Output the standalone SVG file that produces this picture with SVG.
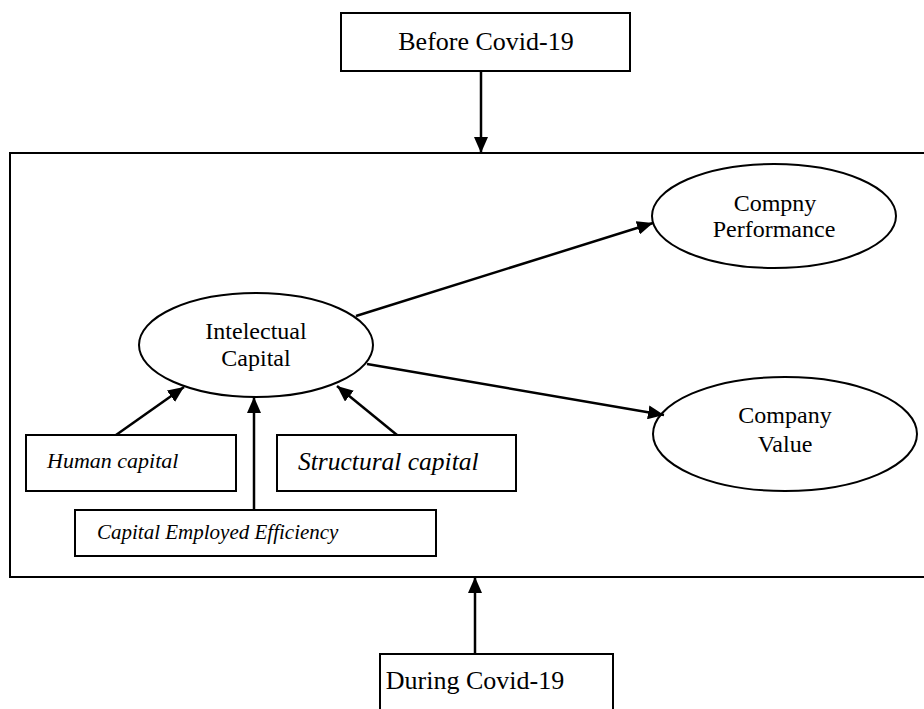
<svg xmlns="http://www.w3.org/2000/svg" width="924" height="709" viewBox="0 0 924 709">
<defs>
<style>
.box{fill:#fff;stroke:#000;stroke-width:2}
.ell{fill:#fff;stroke:#000;stroke-width:2}
.t{font-family:"Liberation Serif","Times New Roman",serif;fill:#000;text-anchor:middle}
.it{font-family:"Liberation Serif","Times New Roman",serif;font-style:italic;fill:#000}
.c{stroke:#000;stroke-width:2.5;fill:none;marker-end:url(#ah)}
</style>
<marker id="ah" viewBox="0 0 16 14" refX="16" refY="7" markerWidth="16" markerHeight="14" markerUnits="userSpaceOnUse" orient="auto">
<path d="M0,0 L16,7 L0,14 Z" fill="#000"/>
</marker>
</defs>
<rect width="924" height="709" fill="#fff"/>
<g id="frame">
<rect class="box" x="10" y="153" width="930" height="424"/>
</g>
<g id="before">
<rect class="box" x="341" y="13" width="289" height="58"/>
<text class="t" x="486" y="50" font-size="26">Before Covid-19</text>
</g>
<g id="during">
<rect class="box" x="380" y="654" width="233" height="70"/>
<text class="t" x="475" y="689" font-size="26">During Covid-19</text>
</g>
<g id="intellectual">
<ellipse class="ell" cx="256" cy="345" rx="117" ry="52"/>
<text class="t" x="256" y="339" font-size="24">Intelectual</text>
<text class="t" x="256" y="366" font-size="24">Capital</text>
</g>
<g id="performance">
<ellipse class="ell" cx="774" cy="216" rx="122" ry="52"/>
<text class="t" x="775" y="211" font-size="24">Compny</text>
<text class="t" x="774" y="237" font-size="24">Performance</text>
</g>
<g id="value">
<ellipse class="ell" cx="785" cy="434" rx="132" ry="57"/>
<text class="t" x="785" y="423" font-size="24">Company</text>
<text class="t" x="785" y="452" font-size="24">Value</text>
</g>
<g id="human">
<rect class="box" x="26" y="435" width="210" height="56"/>
<text class="it" x="47" y="468" font-size="22">Human capital</text>
</g>
<g id="structural">
<rect class="box" x="277" y="435" width="239" height="56"/>
<text class="it" x="298" y="470" font-size="25.5">Structural capital</text>
</g>
<g id="cee">
<rect class="box" x="75" y="510" width="361" height="46"/>
<text class="it" x="97" y="539" font-size="21">Capital Employed Efficiency</text>
</g>
<g id="connectors">
<line class="c" x1="481" y1="71" x2="481" y2="153"/>
<line class="c" x1="475" y1="654" x2="475" y2="577"/>
<line class="c" x1="356" y1="316" x2="653" y2="223"/>
<line class="c" x1="367" y1="364" x2="664" y2="415"/>
<line class="c" x1="116" y1="435" x2="184" y2="387"/>
<line class="c" x1="397" y1="435" x2="337" y2="386"/>
<line class="c" x1="254" y1="510" x2="254" y2="397"/>
</g>
</svg>
